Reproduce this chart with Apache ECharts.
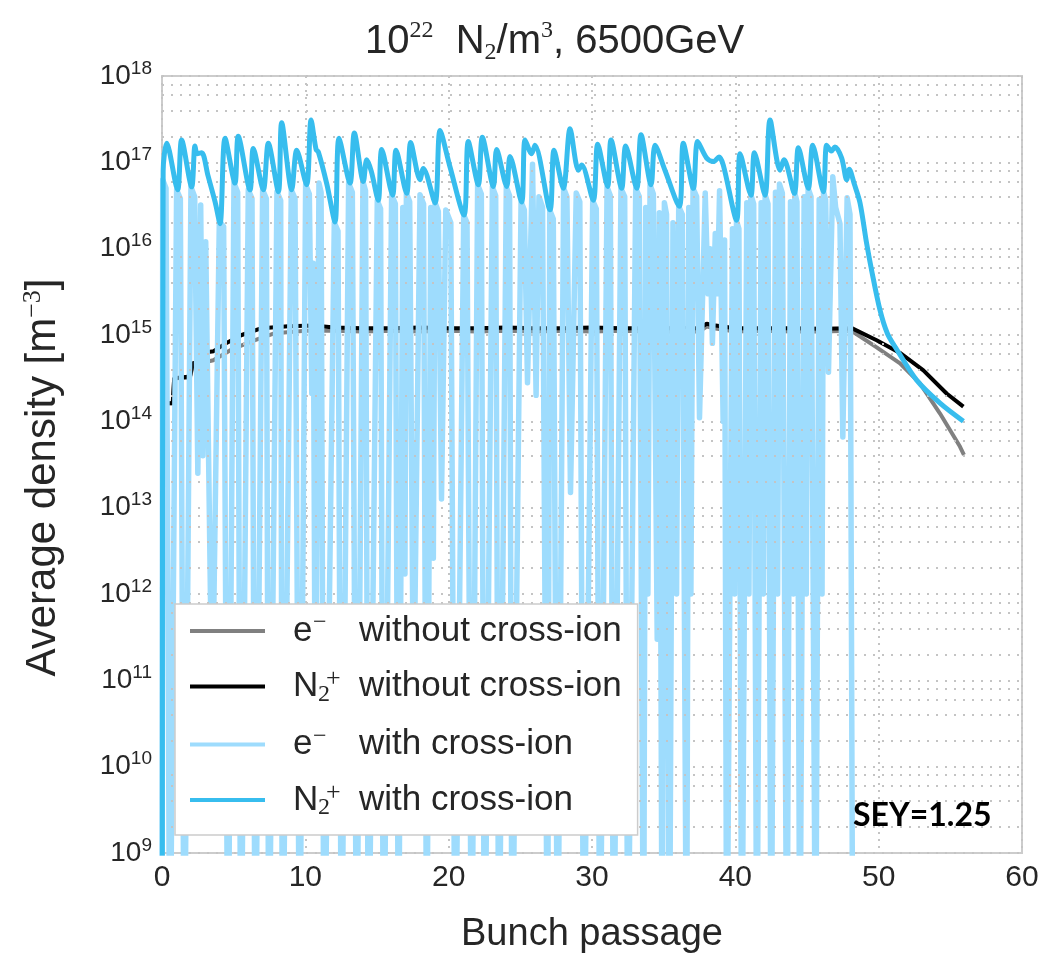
<!DOCTYPE html>
<html>
<head>
<meta charset="utf-8">
<script src="https://cdn.jsdelivr.net/npm/echarts@6/dist/echarts.min.js"></script>
<style>
html,body{margin:0;padding:0;background:#fff;}
#chart{width:1042px;height:954px;}
</style>
</head>
<body>
<div id="chart"></div>
<script>
// ---------------- data ----------------
const xTickValues = [0, 10, 20, 30, 40, 50, 60];
const yExponents = [9, 10, 11, 12, 13, 14, 15, 16, 17, 18];

// e- without cross-ion
const eWithout = [
  [0.05,1.62e14],[0.75,1.62e14],[0.85,3.16e14],[1.95,3.2e14],[2.15,4.5e14],[3.58,5.1e14],
  [4.86,6.8e14],[6.49,8.7e14],[7.88,1.05e15],[10,1.12e15],[12,1.12e15],[14,1.1e15],
  [16,1.12e15],[18,1.1e15],[20,1.12e15],[22,1.1e15],[24,1.12e15],[26,1.1e15],[28,1.12e15],
  [30,1.1e15],[32,1.12e15],[34,1.1e15],[36,1.1e15],[37.5,1.1e15],[38.0,1.25e15],[38.5,1.2e15],
  [40,1.1e15],[42,1.12e15],[44,1.1e15],[46,1.1e15],[48.1,1.12e15],[49.86,7.2e14],
  [51.49,4.7e14],[52.88,2.75e14],[54.28,1.23e14],[55.67,5.1e13],[55.95,4.1e13]
];

// N2+ without cross-ion
const n2Without = [
  [0.05,1.62e14],[0.75,1.62e14],[0.85,3.16e14],[1.95,3.3e14],[2.15,4.7e14],[2.9,5.0e14],
  [3.1,6.3e14],[3.6,6.5e14],[4.4,7.9e14],[5.56,1.0e15],[6.95,1.2e15],[8.81,1.26e15],
  [10.6,1.29e15],[12,1.22e15],[14,1.2e15],[16,1.2e15],[18,1.22e15],[20,1.2e15],[22,1.2e15],
  [24,1.22e15],[26,1.2e15],[28,1.2e15],[30,1.22e15],[32,1.2e15],[34,1.2e15],[36,1.2e15],
  [37.5,1.2e15],[38.0,1.35e15],[38.5,1.3e15],[40,1.2e15],[42,1.2e15],[44,1.2e15],[46,1.18e15],
  [48.12,1.2e15],[49.86,8.7e14],[51.49,6.2e14],[53.12,3.9e14],[54.74,2.1e14],[55.91,1.48e14]
];

// e- with cross-ion
const eWith = [
  [0.0,1e7],[0.05,6.3e16],[0.28,5.0e16],[0.55,1e7],
  [1.02,4.8e16],[1.28,3.8e16],[1.55,1e7],
  [2.02,5.2e16],[2.28,4.0e16],[2.5,2.5e13],[2.7,3.2e16],[2.85,4.0e13],[3.05,1.2e16],[3.5,3e10],
  [4.0,2.1e16],[4.3,1.8e16],[4.6,1e7],
  [5.02,5.75e16],[5.28,4.5e16],[5.5,1e7],
  [6.02,4.8e16],[6.28,3.8e16],[6.5,1e7],
  [7.02,4.8e16],[7.28,3.8e16],[7.45,1e7],
  [8.02,4.57e16],[8.28,3.6e16],[8.4,1e7],
  [9.02,4.8e16],[9.28,3.8e16],[9.6,1e7],
  [10.02,5.5e16],[10.28,4.3e16],[10.45,2.1e14],[10.55,6.8e15],[10.7,1e10],
  [10.95,5.75e16],[11.1,4.5e16],[11.3,1e7],
  [12.02,2.0e16],[12.28,1.6e16],[12.52,1e7],
  [13.02,5.75e16],[13.28,4.5e16],[13.58,1e7],
  [14.02,6.0e16],[14.2,4.7e16],[14.4,1e7],
  [15.02,3.6e16],[15.25,2.9e16],[15.45,1e7],
  [16.02,4.2e16],[16.28,3.3e16],[16.5,1e7],[16.8,3.0e16],[16.95,1.7e12],
  [17.05,4.4e16],[17.28,3.5e16],[17.55,3e10],
  [18.0,4.2e16],[18.25,3.3e16],[18.47,1e7],[18.75,3.0e16],[18.93,2.6e12],
  [19.05,3.4e16],[19.28,2.7e16],[19.5,1.26e13],
  [19.8,2.8e16],[20.15,2.0e16],[20.45,1e7],
  [21.05,2.45e16],[21.28,2.0e16],[21.6,1e7],
  [22.02,5.5e16],[22.28,4.3e16],[22.5,1e7],
  [23.05,5.2e16],[23.28,4.1e16],[23.5,1e7],
  [24.02,5.2e16],[24.25,4.1e16],[24.42,1e7],
  [25.05,3.5e16],[25.28,2.8e16],[25.5,2.8e14],[25.85,9.5e16],[26.1,2.0e14],
  [26.3,4.0e16],[26.55,3.0e16],[26.9,1e7],
  [27.05,2.8e16],[27.3,2.2e16],[27.6,1e7],
  [28.02,5.0e16],[28.25,4.0e16],[28.5,1.5e13],
  [28.9,4.4e16],[29.15,3.5e16],[29.42,1e7],
  [30.05,3.6e16],[30.3,2.9e16],[30.55,1e7],
  [31.05,5.2e16],[31.28,4.1e16],[31.5,1e7],
  [32.02,5.0e16],[32.28,4.0e16],[32.5,1e7],
  [33.05,5.0e16],[33.3,4.0e16],[33.6,1e7],[33.75,3.0e16],[33.9,1e12],
  [34.05,5.5e16],[34.28,4.3e16],[34.55,3e11],[34.7,2.6e16],[34.9,1e7],[35.05,3.4e16],[35.2,2.5e16],[35.4,1e7],[35.65,2.0e16],[35.9,1e12],
  [36.05,3.1e16],[36.3,2.5e16],[36.6,1e7],[36.75,3.0e16],[36.9,1e12],
  [37.05,5.0e16],[37.3,4.0e16],[37.5,1.1e14],
  [37.9,4.4e16],[38.1,3.0e15],[38.25,1.0e16],[38.4,8e14],[38.6,1.5e16],[38.75,3e15],[38.9,4.7e16],[39.15,1.0e14],
  [39.25,1.26e16],[39.4,1e7],
  [39.8,1.7e16],[39.95,1e12],[40.08,2.1e16],[40.25,1.7e16],[40.45,1e7],
  [40.8,3.4e16],[40.95,1e12],[41.08,4.2e16],[41.28,3.3e16],[41.5,1e7],
  [41.8,3.4e16],[41.95,1e12],[42.08,4.2e16],[42.28,3.3e16],[42.5,1e7],
  [42.8,4.5e16],[42.95,1e12],[43.08,5.6e16],[43.28,4.4e16],[43.6,1e7],
  [43.85,3.5e16],[44.05,1e12],[44.15,4.4e16],[44.3,3.5e16],[44.5,1e7],
  [44.8,4.0e16],[44.95,1e12],[45.08,5.0e16],[45.28,4.0e16],[45.6,1e7],
  [45.85,3.7e16],[46.05,1e12],[46.15,4.6e16],[46.3,3.7e16],[46.5,3.7e14],[46.8,6.8e16],[47.0,3.0e16],
  [47.3,1.95e16],[47.5,6.6e13],[47.8,3.9e16],[48.0,2.5e16],[48.2,1e7]
];

// N2+ with cross-ion
const n2With = [
  [0.02,1e8],[0.08,7.9e16],[0.33,1.66e17],[1.09,4.8e16],[1.37,1.82e17],[2.07,5.2e16],
  [2.30,1.55e17],[2.45,1.26e17],[2.77,1.29e17],[3.2,7.1e16],[3.7,3.5e16],[4.05,1.95e16],
  [4.40,1.9e17],[5.09,5.75e16],[5.32,2.0e17],[6.14,4.8e16],[6.37,1.45e17],[7.07,4.8e16],
  [7.42,1.66e17],[8.12,4.57e16],[8.35,2.88e17],[9.05,4.8e16],[9.40,1.38e17],[10.09,5.5e16],
  [10.40,3.1e17],[10.75,1.41e17],[10.91,1.32e17],[11.5,5.6e16],[12.07,2.04e16],[12.35,1.9e17],
  [13.12,5.75e16],[13.42,2.19e17],[14.05,6.0e16],[14.28,1.07e17],[14.6,7.9e16],[15.09,3.63e16],
  [15.33,1.41e17],[16.09,4.17e16],[16.33,1.38e17],[17.07,4.37e16],[17.35,1.7e17],[18.0,6.3e16],
  [18.23,8.5e16],[19.05,3.39e16],[19.40,2.34e17],[20.09,8.9e16],[21.07,2.45e16],[21.37,1.74e17],
  [22.07,5.5e16],[22.35,1.95e17],[23.12,5.25e16],[23.35,1.41e17],[24.05,5.25e16],[24.28,1.17e17],
  [25.09,3.47e16],[25.33,1.82e17],[25.79,1.26e17],[26.02,1.58e17],[27.07,2.82e16],[27.35,1.38e17],
  [28.0,5.0e16],[28.47,2.45e17],[29.05,8.1e16],[29.28,9.3e16],[30.09,3.63e16],[30.40,1.62e17],
  [31.09,5.25e16],[31.33,1.82e17],[32.07,5.0e16],[32.35,1.55e17],[33.12,5.0e16],[33.42,2.09e17],
  [34.12,5.5e16],[34.40,1.58e17],[35.09,8.1e16],[36.09,3.09e16],[36.37,1.66e17],[37.07,5.0e16],
  [37.37,1.74e17],[38.0,1.12e17],[38.47,1.02e17],[38.86,1.15e17],[39.16,9.3e16],[40.09,2.14e16],
  [40.33,1.26e17],[41.09,4.17e16],[41.33,1.29e17],[42.07,4.17e16],[42.42,3.1e17],[43.12,8.1e16],
  [43.40,1.07e17],[44.12,4.37e16],[44.40,1.48e17],[45.09,5.0e16],[45.40,1.58e17],[46.14,4.57e16],
  [46.37,1.58e17],[46.7,1.35e17],[46.95,1.51e17],[47.42,1.12e17],[47.77,6.3e16],[47.95,8.3e16],
  [48.3,5.6e16],[48.70,3.39e16],[49.16,1.15e16],[49.51,5.6e15],[50.09,1.95e15],[50.6,1.05e15],
  [51.26,6.8e14],[52.65,3.0e14],[54.28,1.62e14],[55.91,1.0e14]
];

const seriesNames = ['eWithout', 'n2Without', 'eWith', 'n2With'];

// ---------------- chart ----------------
const FONT = '"Liberation Sans", Arial, sans-serif';
const SERIF = '"Liberation Serif", "DejaVu Serif", serif';
const TXT = '#262626';

// minor horizontal grid lines at 2,4,6,8 x 10^k
const minorGrid = [];
for (let k = 9; k < 18; k++) {
  [2, 4, 6, 8].forEach(m => minorGrid.push({ yAxis: m * Math.pow(10, k) }));
}

const legendLabel = {
  eWithout: '{sp|}{Le|e}{eS|\u2212}{T|without cross-ion}',
  n2Without: '{sp|}{L|N}{nB|2}{nP|+}{T|without cross-ion}',
  eWith: '{sp|}{Le|e}{eS|\u2212}{T|with cross-ion}',
  n2With: '{sp|}{L|N}{nB|2}{nP|+}{T|with cross-ion}'
};

const dotted = { type: [2, 7], color: '#c4c4c4', width: 2 };

const chart = echarts.init(document.getElementById('chart'), null, { renderer: 'canvas' });
chart.setOption({
  backgroundColor: '#ffffff',
  animation: false,
  title: {
    text: '{t|10}{s|22}{t|  N}{b|2}{t|/m}{s|3}{t|, 6500GeV}',
    left: 360,
    top: 14,
    textStyle: {
      fontWeight: 'normal',
      rich: {
        t: { fontFamily: FONT, fontSize: 40, fontWeight: 'normal', color: TXT, lineHeight: 46 },
        s: { fontFamily: SERIF, fontSize: 24, fontWeight: 'normal', color: TXT, verticalAlign: 'top', lineHeight: 26 },
        b: { fontFamily: SERIF, fontSize: 24, fontWeight: 'normal', color: TXT, verticalAlign: 'bottom', lineHeight: 24 }
      }
    }
  },
  grid: {
    left: 162, right: 20, top: 76, bottom: 101,
    containLabel: false,
    outerBoundsMode: 'none',
    show: true, borderColor: '#cccccc', borderWidth: 2, backgroundColor: 'transparent'
  },
  legend: {
    orient: 'vertical',
    left: 175,
    top: 604,
    data: seriesNames,
    icon: 'rect',
    itemWidth: 75,
    itemHeight: 4,
    itemGap: 18,
    padding: [7, 16, 15, 15],
    backgroundColor: '#ffffff',
    borderColor: '#cccccc',
    borderWidth: 1.5,
    borderRadius: 0,
    z: 10,
    formatter: name => legendLabel[name],
    textStyle: {
      rich: {
        sp: { width: 23 },
        L: { fontFamily: FONT, fontSize: 35, color: TXT, width: 25, lineHeight: 40 },
        Le: { fontFamily: FONT, fontSize: 35, color: TXT, width: 20, lineHeight: 40 },
        eS: { fontFamily: SERIF, fontSize: 24, color: TXT, width: 46, verticalAlign: 'top', lineHeight: 24 },
        nB: { fontFamily: SERIF, fontSize: 24, color: TXT, width: 8, verticalAlign: 'bottom', lineHeight: 22 },
        nP: { fontFamily: SERIF, fontSize: 26, color: TXT, width: 33, verticalAlign: 'top', lineHeight: 26 },
        T: { fontFamily: FONT, fontSize: 35, color: TXT, lineHeight: 40 }
      }
    }
  },
  xAxis: {
    type: 'value',
    min: 0, max: 60, interval: 10,
    axisLine: { show: false },
    axisTick: { show: false },
    splitLine: { show: true, lineStyle: { type: [2, 5], color: '#c4c4c4', width: 2 } },
    axisLabel: {
      fontFamily: FONT, fontSize: 30, color: TXT, margin: 10,
      formatter: v => (xTickValues.indexOf(v) >= 0 ? String(v) : '')
    },
    name: 'Bunch passage',
    nameLocation: 'middle',
    nameGap: 63,
    nameTextStyle: { fontFamily: FONT, fontSize: 38, color: TXT }
  },
  yAxis: {
    type: 'log',
    logBase: 10,
    min: 1e9, max: 1e18, interval: 1,
    axisLine: { show: false },
    axisTick: { show: false },
    splitLine: { show: true, lineStyle: dotted },
    axisLabel: {
      margin: 10,
      formatter: v => {
        const e = Math.round(Math.log10(v));
        return yExponents.indexOf(e) >= 0 ? '{b|10}{s|' + e + '}' : '';
      },
      rich: {
        b: { fontFamily: FONT, fontSize: 28, color: TXT, lineHeight: 34 },
        s: { fontFamily: FONT, fontSize: 19, color: TXT, verticalAlign: 'top', lineHeight: 20 }
      }
    },
    name: '{t|Average density [m}{s|\u22123}{t|]}{g|}',
    nameLocation: 'middle',
    nameGap: 96,
    nameTextStyle: {
      rich: {
        t: { fontFamily: FONT, fontSize: 42, color: TXT, lineHeight: 46 },
        s: { fontFamily: SERIF, fontSize: 26, color: TXT, verticalAlign: 'top', lineHeight: 24 },
        g: { width: 26 }
      }
    }
  },
  graphic: [{
    type: 'text',
    left: 853, top: 800, z: 20,
    style: { text: 'SEY=1.25', fontFamily: 'Lato, "Open Sans", sans-serif', fontWeight: 'bold', fontSize: 32, fill: '#000' }
  }],
  series: [
    {
      name: 'gridMinor', type: 'line', data: [], z: 1, silent: true,
      markLine: {
        silent: true, symbol: ['none', 'none'], label: { show: false },
        lineStyle: dotted, data: minorGrid, animation: false
      }
    },
    {
      name: 'eWithout', type: 'line', data: eWithout, showSymbol: false, symbol: 'none', z: 2,
      lineStyle: { color: '#808080', width: 4 }, itemStyle: { color: '#808080' }
    },
    {
      name: 'n2Without', type: 'line', data: n2Without, showSymbol: false, symbol: 'none', z: 3,
      lineStyle: { color: '#000000', width: 4 }, itemStyle: { color: '#000000' }
    },
    {
      name: 'eWith', type: 'line', data: eWith, showSymbol: false, symbol: 'none', z: 4,
      lineStyle: { color: '#9edcfd', width: 5.5, join: 'round', cap: 'round' }, itemStyle: { color: '#9edcfd' }
    },
    {
      name: 'n2With', type: 'line', data: n2With, showSymbol: false, symbol: 'none', z: 5, smooth: 0.3,
      lineStyle: { color: '#37bdee', width: 5, join: 'round' }, itemStyle: { color: '#37bdee' }
    }
  ]
});
</script>
</body>
</html>
